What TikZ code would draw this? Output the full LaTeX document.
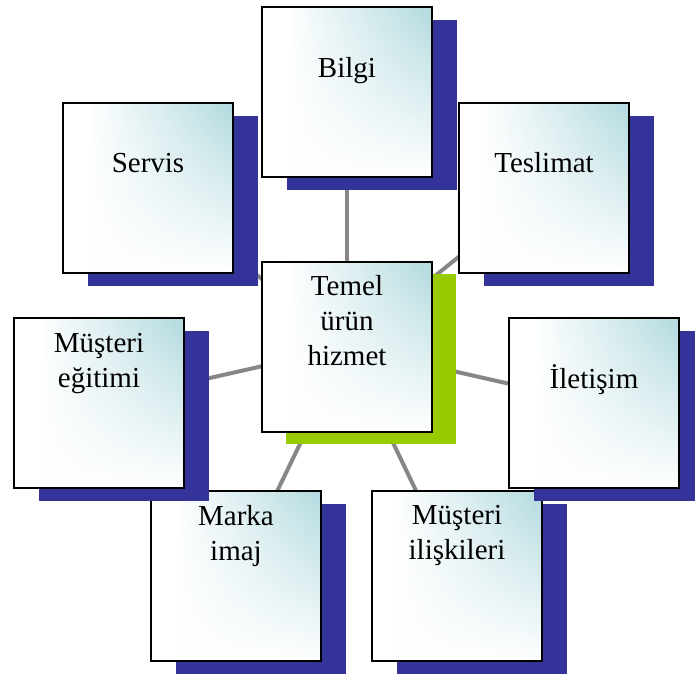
\documentclass[tikz,border=0pt]{standalone}
\usepackage{fontspec}
\setmainfont{Liberation Serif}
\usetikzlibrary{shadows,fadings,calc,backgrounds}

\definecolor{navy}{HTML}{333399}
\definecolor{leaf}{HTML}{99CC00}
\definecolor{linkgray}{HTML}{878787}
\definecolor{tealtint}{HTML}{B2DADF}

% horizontal tint: white on the left, teal on the right (path spans 25bp..75bp)
\pgfdeclarehorizontalshading{cardshade}{100bp}{%
  color(0bp)=(white); color(32bp)=(white); color(52bp)=(tealtint!45!white);
  color(75bp)=(tealtint); color(100bp)=(tealtint)}
% white wash that grows towards the bottom edge
\tikzfading[name=washup, top color=transparent!100, middle color=transparent!65,
  bottom color=transparent!0]

\newcommand\cardfont{\fontsize{29}{35}\selectfont}

\tikzset{
  card/.style={rectangle, minimum width=170pt, minimum height=170pt,
    inner sep=0pt, outer sep=0pt, shading=cardshade,
    path picture={\fill[white, path fading=washup]
      (path picture bounding box.south west) rectangle
      (path picture bounding box.north east);},
    draw=black, line width=1.6pt},
  navycard/.style={card, general shadow={fill=navy, draw=none,
    shadow xshift=25pt, shadow yshift=-13pt}},
  leafcard/.style={card, general shadow={fill=leaf, draw=none,
    shadow xshift=24pt, shadow yshift=-12pt}},
  caption/.style={font=\cardfont, inner sep=0pt, anchor=base},
  link/.style={draw=linkgray, line width=4pt}
}

\newcommand\lines[1]{\begin{tabular}[t]{@{}c@{}}#1\end{tabular}}

\begin{document}
\begin{tikzpicture}[x=1pt, y=-1pt]
\useasboundingbox (0,0) rectangle (695,673);

% cards, each with its offset shadow
\node[navycard] (bilgi)    at (347,92)  {};
\node[navycard] (servis)   at (148,188) {};
\node[navycard] (teslimat) at (544,188) {};
\node[leafcard] (hub)      at (347,347) {};
\node[navycard] (marka)    at (236,576) {};
\node[navycard] (iliski)   at (457,576) {};
\node[navycard] (egitim)   at (99,403)  {};
\node[navycard] (iletisim) at (594,403) {};

% spokes from the hub to every card, behind cards and shadows
\begin{scope}[on background layer]
  \foreach \n in {bilgi,servis,teslimat,egitim,iletisim,marka,iliski}
    \draw[link] (hub.center) -- (\n.center);
\end{scope}

% captions
\node[caption] at ($(bilgi.north)+(0,70)$)    {Bilgi};
\node[caption] at ($(servis.north)+(0,69)$)   {Servis};
\node[caption] at ($(teslimat.north)+(0,69)$) {Teslimat};
\node[caption] at ($(iletisim.north)+(0,70)$) {İletişim};
\node[caption] at ($(hub.north)+(0,33)$)      {\lines{Temel\\ürün\\hizmet}};
\node[caption] at ($(egitim.north)+(0,34)$)   {\lines{Müşteri\\eğitimi}};
\node[caption] at ($(marka.north)+(0,34)$)    {\lines{Marka\\imaj}};
\node[caption] at ($(iliski.north)+(0,33)$)   {\lines{Müşteri\\ilişkileri}};
\end{tikzpicture}
\end{document}
